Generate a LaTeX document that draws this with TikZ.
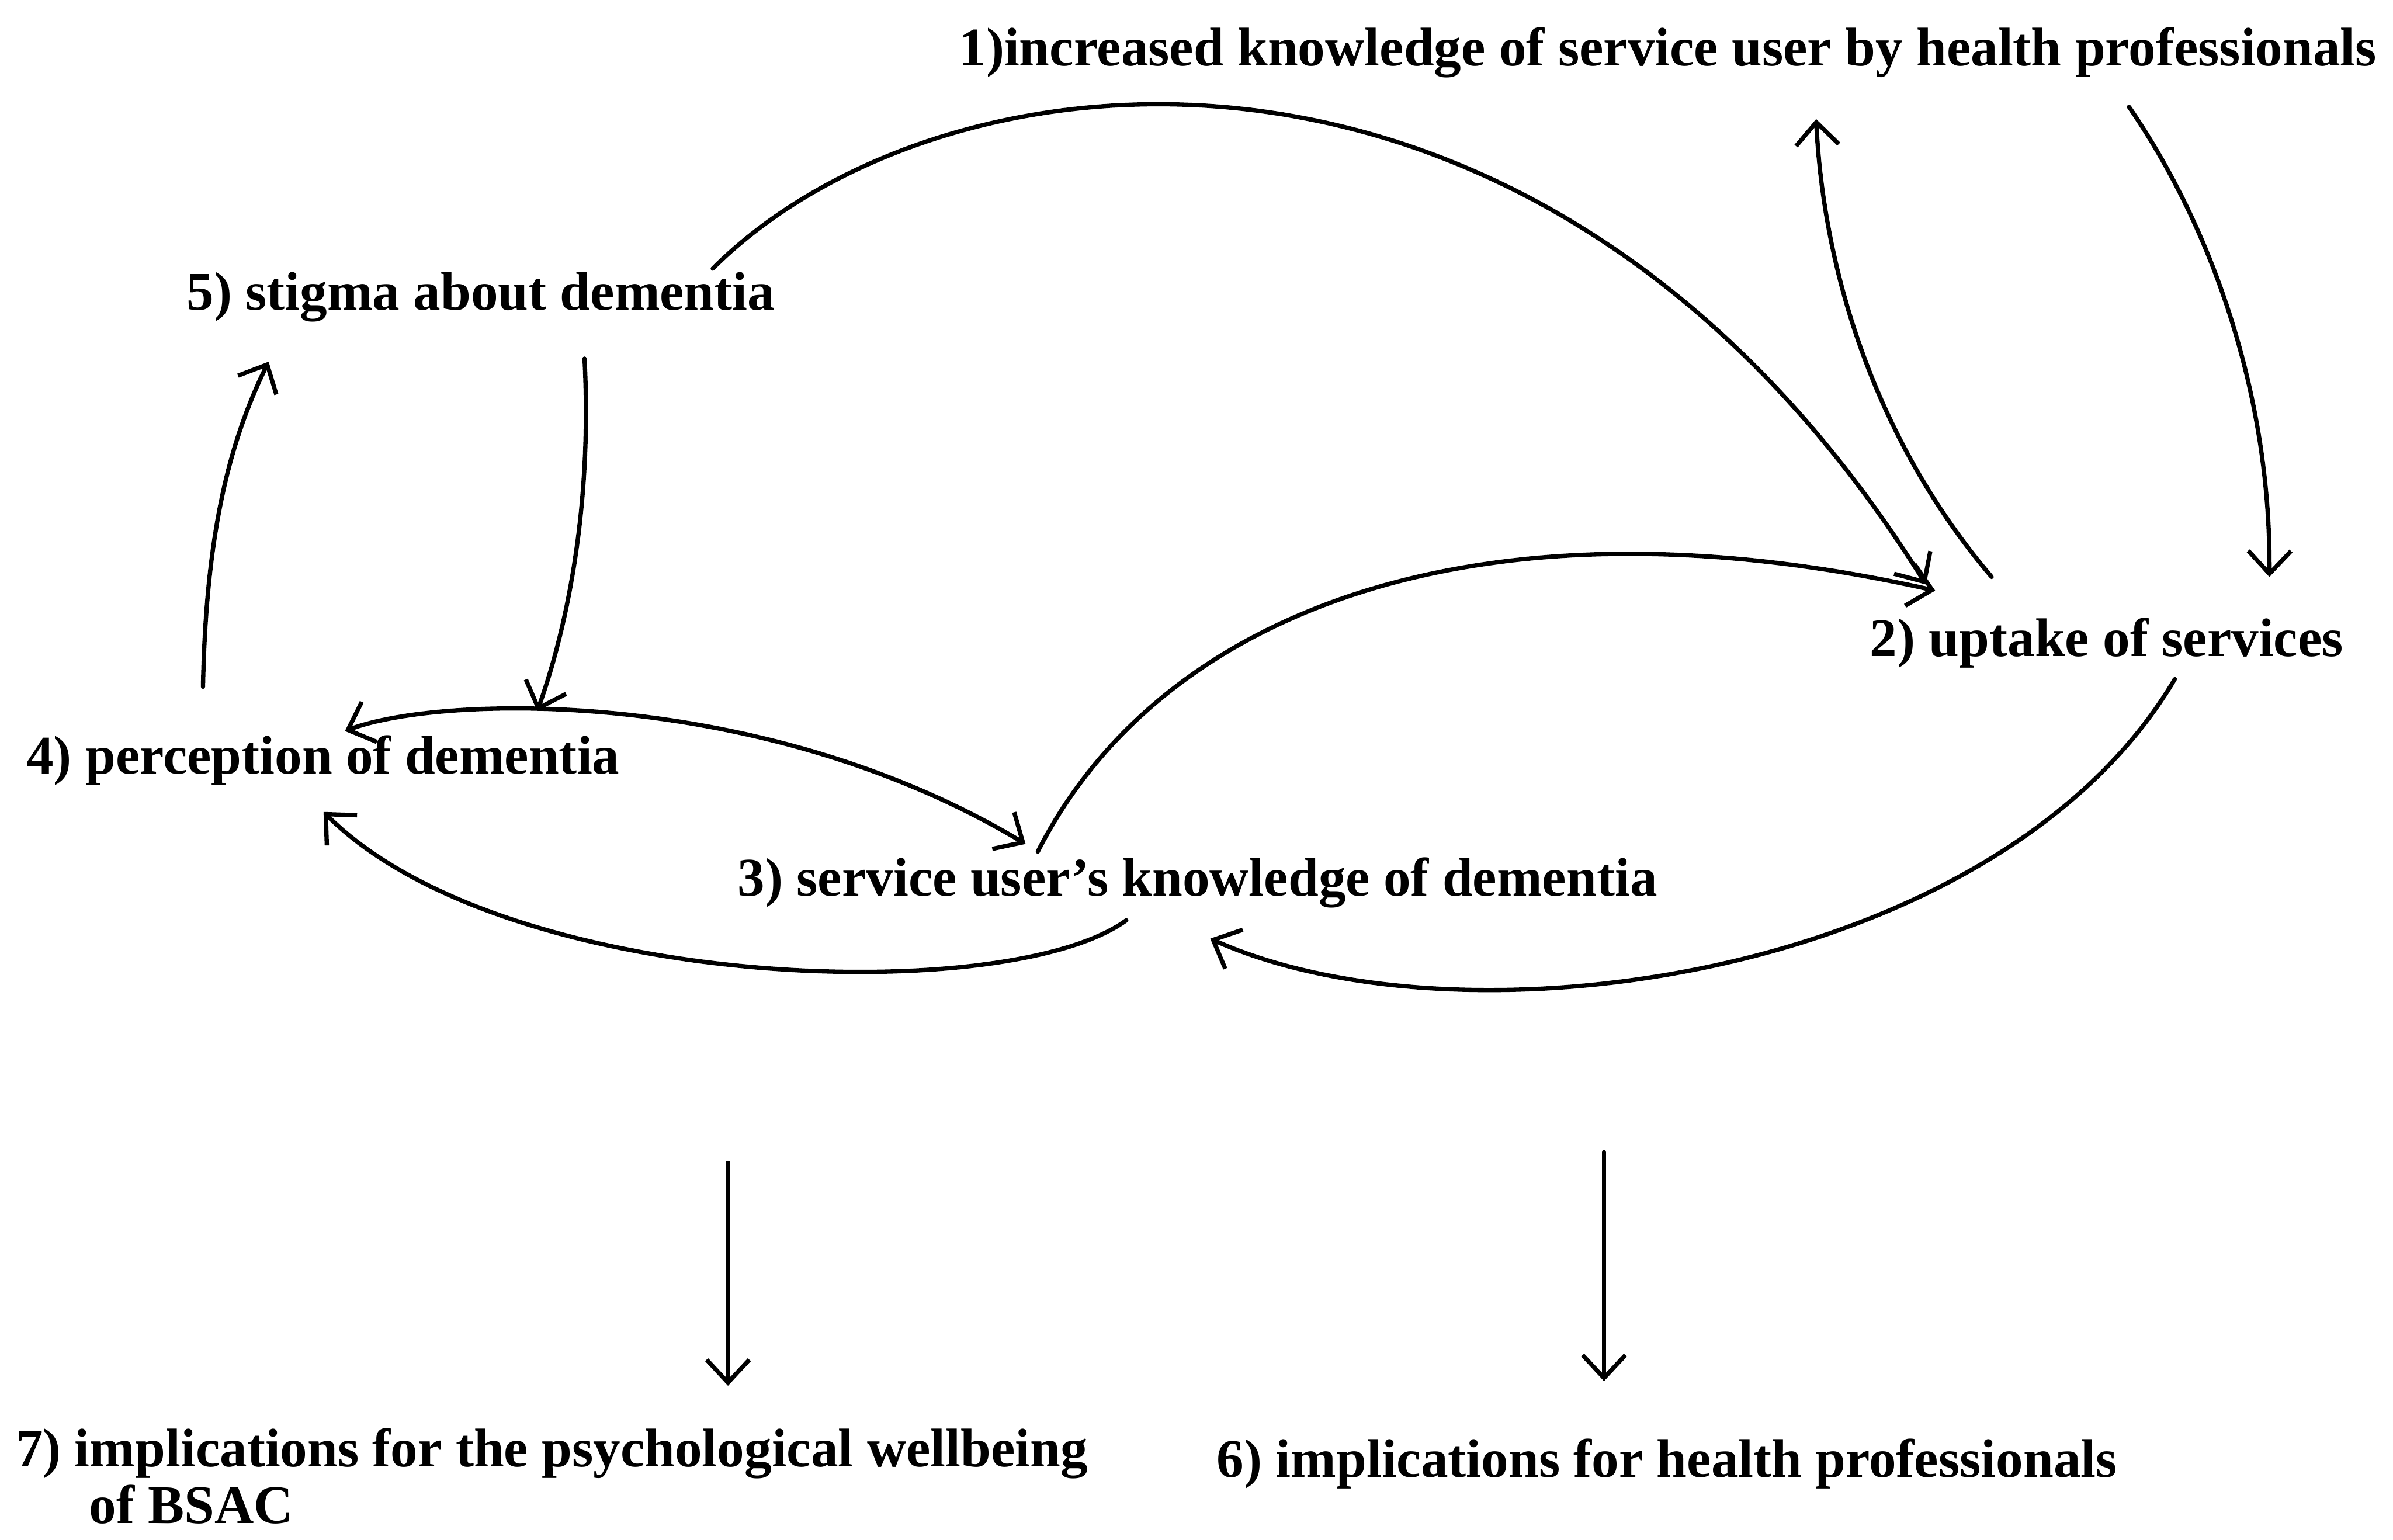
\documentclass[tikz,border=0pt]{standalone}
\usepackage{fontspec}
\setmainfont{Liberation Serif}
\usetikzlibrary{arrows.meta,calc}

\tikzset{
  lbl/.style={font=\fontsize{20.3}{21}\selectfont\bfseries,inner sep=0pt,anchor=base west,align=left},
  link/.style={line width=1.6pt,line cap=round}
}

\begin{document}
\begin{tikzpicture}[x=0.02cm,y=-0.02cm,>={Straight Barb[length=3mm,width=5.6mm]}]
\useasboundingbox (0,0) rectangle (1568,1009);
\node[lbl] (n1) at (628,43) {1)increased knowledge of service user by health professionals};
\node[lbl] (n2) at (1225,430) {2) uptake of services};
\node[lbl] (n3) at (483,587) {3) service user’s knowledge of dementia};
\node[lbl] (n4) at (17,507) {4) perception of dementia};
\node[lbl] (n5) at (122,203) {5) stigma about dementia};
\node[lbl] (n6) at (797,968) {6) implications for health professionals};
\node[lbl] (n7) at (10,998) {7) implications for the psychological wellbeing\\\hspace*{1.35em}of BSAC};
\coordinate (top7) at (477,762);
\coordinate (top6) at (1051,755);
\coordinate (g5) at ($(n4.base west)+(335,-41)$);

\draw[link,->] ($(n5.base west)+(345,-27)$) .. controls +(150,-150) and +(-250,-400) .. ($(n2.base west)+(37,-47)$);
\draw[link,->] ($(n3.base west)+(197,-29)$) .. controls +(80,-158) and +(-298,-67) .. ($(n2.base west)+(43,-43)$);
\draw[link,->] ($(n2.base west)+(80,-52)$) .. controls +(-75,-88) and +(5,102) .. ($(n1.base west)+(562,35)$);
\draw[link,->] ($(n1.base west)+(767,27)$) .. controls +(55,80) and +(1,-118) .. ($(n2.base west)+(262,-52)$);
\draw[link,->] ($(n2.base west)+(200,15)$) .. controls +(-115,195) and +(167,75) .. ($(n3.base west)+(310,28)$);
\draw[link,->] ($(n3.base west)+(255,16)$) .. controls +(-78,57) and +(118,118) .. ($(n4.base west)+(195,25)$);
\draw[link,<->] ($(n4.base west)+(209,-28)$) .. controls +(64,-24) and +(-172,-103) .. ($(n3.base west)+(189,-34)$);
\draw[link,->] ($(n5.base west)+(261,32)$) .. controls +(5,95) and +(20,-56) .. (g5);
\draw[link,->] ($(n4.base west)+(116,-57)$) .. controls +(2,-100) and +(-26,53) .. ($(n5.base west)+(54,34)$);
\draw[link,->] (top7) -- ($(n7.base west)+(467,-90)$);
\draw[link,->] (top6) -- ($(n6.base west)+(254,-63)$);
\end{tikzpicture}
\end{document}
